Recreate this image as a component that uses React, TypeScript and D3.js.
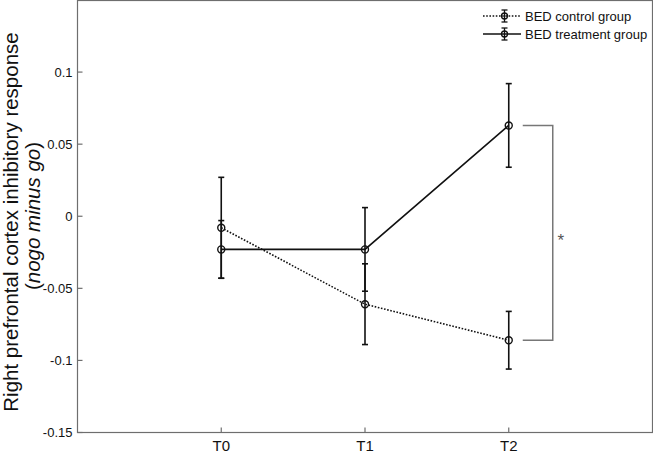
import React from "react";
import * as d3 from "d3";

// values
const timepoints = ["T0", "T1", "T2"];
const controlMean = [-0.008, -0.061, -0.086];
const controlErr = [0.035, 0.028, 0.02];
const treatmentMean = [-0.023, -0.023, 0.063];
const treatmentErr = [0.02, 0.029, 0.029];
const yTicks = [-0.15, -0.1, -0.05, 0, 0.05, 0.1];
const yTickLabels = ["-0.15", "-0.1", "-0.05", "0", "0.05", "0.1"];
const legendLabels = ["BED control group", "BED treatment group"];

const W = 653;
const H = 451;
const FONT = "'Liberation Sans', Arial, sans-serif";
const axisColor = "#6e6e6e";

const x = d3.scaleLinear().domain([0, 4]).range([77.5, 652.5]);
const y = d3.scaleLinear().domain([-0.15, 0.15]).range([432.5, 0]);

const series = [
    { name: legendLabels[0], mean: controlMean, err: controlErr, dash: "1.6 1.6" },
    { name: legendLabels[1], mean: treatmentMean, err: treatmentErr, dash: null },
];

const line = d3
    .line<number>()
    .x((_d, i) => x(i + 1))
    .y((d) => y(d));

const capW = 3;

function ErrorBars({ mean, err }: { mean: number[]; err: number[] }) {
    return (
        <g stroke="#111" strokeWidth={1.6} fill="none">
            {mean.map((m, i) => {
                const cx = x(i + 1);
                const top = y(m + err[i]);
                const bot = y(m - err[i]);
                return (
                    <g key={i}>
                        <line x1={cx} x2={cx} y1={top} y2={bot} />
                        <line x1={cx - capW} x2={cx + capW} y1={top} y2={top} />
                        <line x1={cx - capW} x2={cx + capW} y1={bot} y2={bot} />
                        <circle cx={cx} cy={y(m)} r={3.5} strokeWidth={1.4} />
                    </g>
                );
            })}
        </g>
    );
}

export default function App() {
    const [x0, x1] = x.range();
    const [yb, yt] = y.range();

    // significance bracket between the groups at T2
    const bx = x(3);
    const bTop = y(treatmentMean[2]);
    const bBot = y(controlMean[2]);

    return (
        <svg
            width={W}
            height={H}
            style={{ position: "absolute", left: 0, top: 0, background: "#fff" }}
            fontFamily={FONT}
        >
            {/* axes box */}
            <rect
                x={x0}
                y={yt + 0.5}
                width={x1 - x0}
                height={yb - yt - 0.5}
                fill="none"
                stroke={axisColor}
                strokeWidth={1.2}
            />

            {/* y ticks */}
            {yTicks.map((t, i) => (
                <g key={t}>
                    <line x1={x0} x2={x0 + 5} y1={y(t)} y2={y(t)} stroke={axisColor} strokeWidth={1.2} />
                    <text x={x0 - 5} y={y(t)} dy="0.35em" textAnchor="end" fontSize={13} fill="#111">
                        {yTickLabels[i]}
                    </text>
                </g>
            ))}

            {/* x ticks */}
            {timepoints.map((t, i) => (
                <g key={t}>
                    <line x1={x(i + 1)} x2={x(i + 1)} y1={yb} y2={yb - 5} stroke={axisColor} strokeWidth={1.2} />
                    <text x={x(i + 1)} y={450.5} textAnchor="middle" fontSize={15} fill="#111">
                        {t}
                    </text>
                </g>
            ))}

            {/* y label */}
            <text transform="translate(17.5,222) rotate(-90)" textAnchor="middle" fontSize={20.5} fill="#111">
                Right prefrontal cortex inhibitory response
            </text>
            <text transform="translate(40,216) rotate(-90)" textAnchor="middle" fontSize={20.5} fill="#111">
                (<tspan fontStyle="italic">nogo minus go</tspan>)
            </text>

            {/* series */}
            {series.map((s) => (
                <g key={s.name}>
                    <path
                        d={line(s.mean) || ""}
                        fill="none"
                        stroke="#111"
                        strokeWidth={1.6}
                        strokeDasharray={s.dash || undefined}
                    />
                    <ErrorBars mean={s.mean} err={s.err} />
                </g>
            ))}

            {/* bracket */}
            <path
                d={`M${bx + 14},${bTop}H${bx + 44}V${bBot}H${bx + 14}`}
                fill="none"
                stroke="#777"
                strokeWidth={1.5}
            />
            <text x={bx + 52} y={(bTop + bBot) / 2} dy="0.75em" textAnchor="middle" fontSize={17} fill="#555">
                *
            </text>

            {/* legend */}
            {series.map((s, i) => {
                const ly = 16 + i * 18;
                const mx = 504.5;
                return (
                    <g key={s.name}>
                        <line
                            x1={483}
                            x2={521}
                            y1={ly}
                            y2={ly}
                            stroke="#111"
                            strokeWidth={1.4}
                            strokeDasharray={s.dash || undefined}
                        />
                        <g stroke="#111" strokeWidth={1.3} fill="#fff">
                            <line x1={mx} x2={mx} y1={ly - 6} y2={ly + 6} />
                            <line x1={mx - 3} x2={mx + 3} y1={ly - 6} y2={ly - 6} />
                            <line x1={mx - 3} x2={mx + 3} y1={ly + 6} y2={ly + 6} />
                            <circle cx={mx} cy={ly} r={3} fill="none" />
                        </g>
                        <text x={525} y={ly + 4.6} fontSize={13} fill="#111">
                            {s.name}
                        </text>
                    </g>
                );
            })}
        </svg>
    );
}
